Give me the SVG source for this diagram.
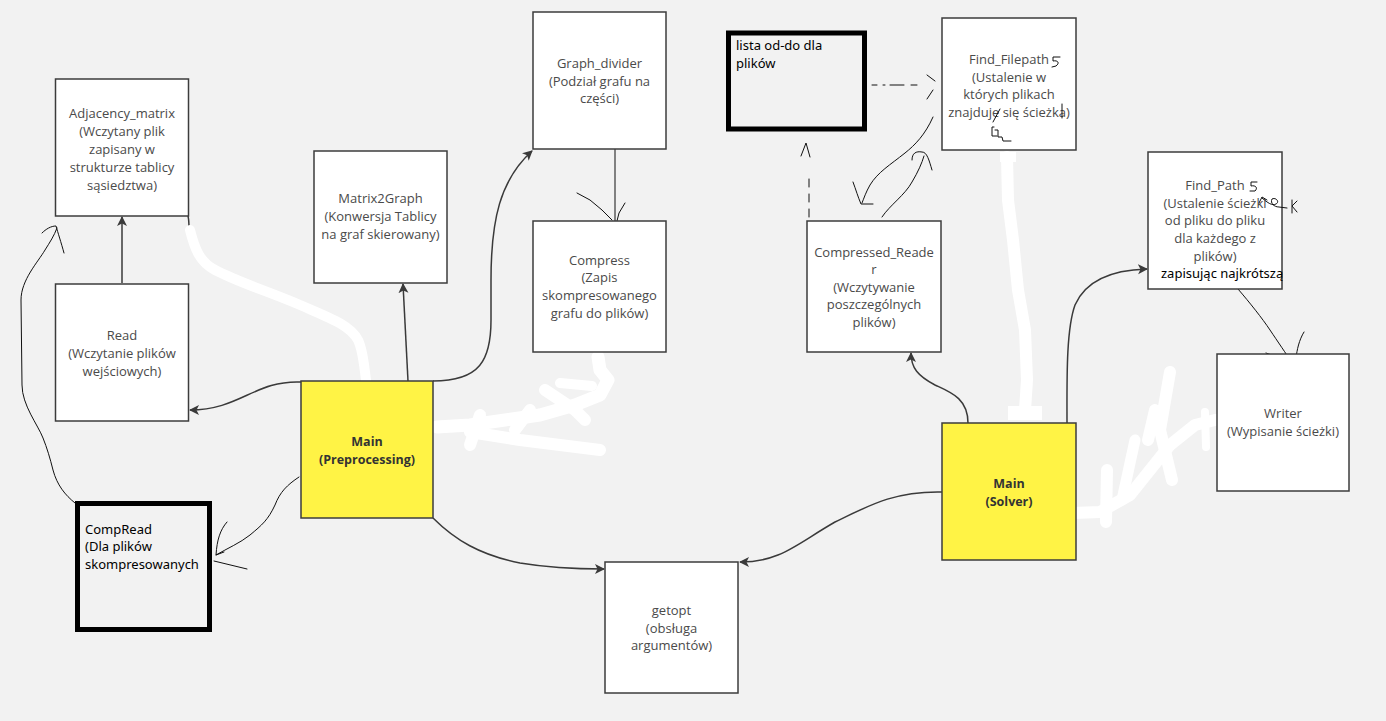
<svg xmlns="http://www.w3.org/2000/svg" width="1386" height="721" viewBox="0 0 1386 721">
  <style>
    .box { fill: #ffffff; stroke: #3c3c3c; stroke-width: 1.5; }
    .main { fill: #fff345; stroke: #3c3c3c; stroke-width: 1.5; }
    .note { fill: #f2f2f2; stroke: #000000; stroke-width: 5; }
    .lbl { font-family: "Open Sans", "Noto Sans", sans-serif; font-size: 13px; fill: #4a4a4a; text-anchor: middle; }
    .bold { font-family: "Open Sans", "Noto Sans", sans-serif; font-size: 12.5px; font-weight: bold; fill: #333333; text-anchor: middle; }
    .blk { font-family: "Noto Sans", "Open Sans", sans-serif; font-size: 13px; fill: #000000; }
    .conn { fill: none; stroke: #3a3a3a; stroke-width: 1.5; }
    .pen { fill: none; stroke: #111111; stroke-width: 1; stroke-linecap: round; stroke-linejoin: round; }
    .erase { fill: none; stroke: #ffffff; stroke-linecap: round; stroke-linejoin: round; }
  </style>
  <defs>
    <marker id="arr" viewBox="0 0 10 10" refX="9" refY="5" markerWidth="10" markerHeight="11" markerUnits="userSpaceOnUse" orient="auto">
      <path d="M0,0 L10,5 L0,10 L2.5,5 z" fill="#3a3a3a"/>
    </marker>
  </defs>

  <rect x="0" y="0" width="1386" height="721" fill="#f2f2f2"/>

  <!-- connectors -->
  <g id="connectors">
    <path class="conn" marker-end="url(#arr)" d="M122,283 L122,217"/>
    <path class="conn" marker-end="url(#arr)" d="M301,382 C255,380 240,410 190,410"/>
    <path class="conn" marker-end="url(#arr)" d="M408,381 L403,284"/>
    <path class="conn" marker-end="url(#arr)" d="M433,381 C480,381 491,360 491,320 L491,280 C491,220 500,180 532,151"/>
    <path class="conn" marker-end="url(#arr)" d="M433,518 C455,540 480,555 520,563 C550,568 575,569 604,569"/>
    <path class="conn" marker-end="url(#arr)" d="M942,492 C895,491 870,505 835,522 C795,545 780,562 740,562"/>
    <path class="conn" marker-end="url(#arr)" d="M968,423 C968,398 950,392 935,385 C918,376 911,368 911,353"/>
    <path class="conn" marker-end="url(#arr)" d="M1067,423 C1067,380 1066,330 1075,305 C1085,282 1110,270 1147,269"/>
    <!-- stub of the removed link below Adjacency_matrix -->
    <path class="conn" d="M188,216 C189,220 189,225 189,229"/>

    <!-- freehand pen strokes -->
    <path class="pen" d="M615,149 L615,221"/>
    <path class="pen" d="M577,193 L590,200 L602,210 L612,220 M625,203 L619,213 L617,221"/>
    <path class="pen" d="M299,477 C287,485 280,492 275,505 C268,520 262,525 250,535 C240,543 228,548 216,555"/>
    <path class="pen" d="M227,522 C220,530 217,540 216,555 L224,552 M214,561 L247,569"/>
    <path class="pen" d="M75,503 C65,495 57,485 53,470 C50,458 47,448 43,438 C38,425 22,405 22,385 L21,300 C21,280 38,262 45,250 C50,242 54,236 57,228"/>
    <path class="pen" d="M42,233 C46,229 51,226 56,226 C58,233 61,242 64,253"/>
    <path class="pen" d="M872,85 L877,85 M883,85 L885,85 M890,85 L904,85 M911,85 L917,85"/>
    <path class="pen" d="M927,75 L935,81 M927,99 L933,90"/>
    <path class="pen" d="M809,217 L809,175" stroke-dasharray="8,7"/>
    <path class="pen" d="M801,156 L806,143 L810,157"/>
    <path class="pen" d="M933,117 C925,135 915,145 905,153 C890,165 878,172 870,185 C866,192 864,198 862,203"/>
    <path class="pen" d="M853,182 C856,190 858,197 861,204 L873,204"/>
    <path class="pen" d="M882,217 C890,205 905,195 912,182 C918,172 922,163 924,156"/>
    <path class="pen" d="M912,160 C912,153 916,151 922,152 C927,152 929,160 932,170"/>
    <path class="pen" d="M1238,289 C1250,303 1262,318 1270,330 C1278,342 1285,352 1294,366"/>
    <path class="pen" d="M1266,353 L1280,358 L1293,366 M1304,332 C1299,340 1297,350 1296,358 L1294,366"/>
  </g>

  <!-- erased strokes in white -->
  <g id="eraser">
    <path class="erase" stroke-width="10" d="M190,230 C195,250 200,262 215,270 C240,283 270,292 300,305 C330,318 350,325 358,340 C363,350 364,365 366,380"/>
    <path class="erase" stroke-width="13" d="M437,427 L470,425 L505,420 L540,415 L575,405 L600,395 L608,380 L600,370 L598,357"/>
    <path class="erase" stroke-width="12" d="M470,445 L480,415"/>
    <path class="erase" stroke-width="12" d="M470,432 L520,440 L560,445 L600,450"/>
    <path class="erase" stroke-width="12" d="M515,430 L530,410"/>
    <path class="erase" stroke-width="12" d="M545,390 L575,410 L585,420"/>
    <path class="erase" stroke-width="10" d="M560,383 L592,386"/>
    <path class="erase" stroke-width="12" d="M1007,157 L1008,200 L1013,240 L1018,290 L1025,330 L1027,380 L1025,410"/>
    <rect x="1000" y="152" width="16" height="10" fill="#ffffff"/>
    <rect x="1008" y="406" width="34" height="14" fill="#ffffff"/>
    <path class="erase" stroke-width="12" d="M1073,513 L1100,512 L1130,495 L1150,470 L1170,445 L1195,425 L1215,420"/>
    <path class="erase" stroke-width="12" d="M1107,470 L1106,522"/>
    <path class="erase" stroke-width="11" d="M1135,440 L1122,500"/>
    <path class="erase" stroke-width="12" d="M1155,410 L1148,440"/>
    <path class="erase" stroke-width="12" d="M1170,372 L1160,430 L1172,480"/>
    <path class="erase" stroke-width="8" d="M1205,412 L1206,447"/>
  </g>

  <g id="adjacency-matrix">
    <rect class="box" x="55.5" y="79" width="133" height="137"/>
    <text class="lbl"><tspan x="122" y="118">Adjacency_matrix</tspan><tspan x="122" y="136">(Wczytany plik</tspan><tspan x="122" y="154">zapisany w</tspan><tspan x="122" y="172">strukturze tablicy</tspan><tspan x="122" y="190">sąsiedztwa)</tspan></text>
  </g>

  <g id="read">
    <rect class="box" x="55.5" y="284" width="133" height="137"/>
    <text class="lbl"><tspan x="122" y="340">Read</tspan><tspan x="122" y="358">(Wczytanie plików</tspan><tspan x="122" y="376">wejściowych)</tspan></text>
  </g>

  <g id="main-preprocessing">
    <rect class="main" x="301" y="381" width="132" height="137"/>
    <text class="bold"><tspan x="367" y="446">Main</tspan><tspan x="367" y="464">(Preprocessing)</tspan></text>
  </g>

  <g id="compread">
    <rect class="note" x="77.5" y="503.5" width="132" height="126"/>
    <text class="blk"><tspan x="85" y="533.5">CompRead</tspan><tspan x="85" y="551">(Dla plików</tspan><tspan x="85" y="568.5">skompresowanych</tspan></text>
  </g>

  <g id="matrix2graph">
    <rect class="box" x="314" y="151" width="133" height="132"/>
    <text class="lbl"><tspan x="380.5" y="203">Matrix2Graph</tspan><tspan x="380.5" y="221">(Konwersja Tablicy</tspan><tspan x="380.5" y="239">na graf skierowany)</tspan></text>
  </g>

  <g id="graph-divider">
    <rect class="box" x="533" y="12" width="133" height="137"/>
    <text class="lbl"><tspan x="599.5" y="67.5">Graph_divider</tspan><tspan x="599.5" y="85.5">(Podział grafu na</tspan><tspan x="599.5" y="103">części)</tspan></text>
  </g>

  <g id="compress">
    <rect class="box" x="533" y="221" width="133" height="131"/>
    <text class="lbl"><tspan x="599.5" y="264.5">Compress</tspan><tspan x="599.5" y="282">(Zapis</tspan><tspan x="599.5" y="300">skompresowanego</tspan><tspan x="599.5" y="317.5">grafu do plików)</tspan></text>
  </g>

  <g id="getopt">
    <rect class="box" x="605" y="562" width="133" height="131"/>
    <text class="lbl"><tspan x="671.5" y="615">getopt</tspan><tspan x="671.5" y="632.5">(obsługa</tspan><tspan x="671.5" y="650">argumentów)</tspan></text>
  </g>

  <g id="lista-od-do">
    <rect class="note" x="728.5" y="33" width="136" height="96"/>
    <text class="blk"><tspan x="736" y="50">lista od-do dla</tspan><tspan x="736" y="67.5">plików</tspan></text>
  </g>

  <g id="find-filepath">
    <rect class="box" x="942" y="18" width="134" height="132"/>
    <text class="lbl"><tspan x="1009" y="64">Find_Filepath</tspan><tspan x="1009" y="81.5">(Ustalenie w</tspan><tspan x="1009" y="99">których plikach</tspan><tspan x="1009" y="116.5">znajduje się ścieżka)</tspan></text>
    <path class="pen" d="M1060,57 L1053,57 L1053,61 C1058,60 1060,63 1056,66 L1052,67"/>
    <path class="pen" d="M993,122 L1000,109"/>
    <path class="pen" stroke-width="1.6" d="M1062,104 L1062,118"/>
    <path class="pen" d="M994,127 L992,127 L992,136 L997,136 M995,130 L998,130 L998,137 L1002,137 L1003,141 L1011,141"/>
  </g>

  <g id="compressed-reader">
    <rect class="box" x="807" y="221" width="134" height="131"/>
    <text class="lbl"><tspan x="874" y="256.5">Compressed_Reade</tspan><tspan x="874" y="274">r</tspan><tspan x="874" y="291.5">(Wczytywanie</tspan><tspan x="874" y="309">poszczególnych</tspan><tspan x="874" y="327">plików)</tspan></text>
  </g>

  <g id="main-solver">
    <rect class="main" x="942" y="423" width="134" height="137"/>
    <text class="bold"><tspan x="1009" y="488">Main</tspan><tspan x="1009" y="505.5">(Solver)</tspan></text>
  </g>

  <g id="find-path">
    <rect class="box" x="1148" y="152" width="134" height="137"/>
    <text class="lbl"><tspan x="1215" y="190">Find_Path</tspan><tspan x="1215" y="207.5">(Ustalenie ścieżki</tspan><tspan x="1215" y="225">od pliku do pliku</tspan><tspan x="1215" y="243">dla każdego z</tspan><tspan x="1215" y="260.5">plików)</tspan></text>
    <text class="blk" x="1161" y="277.5">zapisując najkrótszą</text>
    <path class="pen" d="M1257,182 L1251,182 L1251,186 C1256,185 1258,188 1255,191 L1250,191"/>
    <path class="pen" d="M1259,203 L1262,197 L1267,200 M1262,198 C1268,203 1272,206 1276,204 C1280,202 1276,197 1272,199 C1270,203 1274,207 1279,207 L1287,208"/>
    <path class="pen" d="M1292,200 L1292,213 M1297,201 L1292,206 L1297,212"/>
  </g>

  <g id="writer">
    <rect class="box" x="1217" y="354" width="132" height="137"/>
    <text class="lbl"><tspan x="1283" y="418">Writer</tspan><tspan x="1283" y="436">(Wypisanie ścieżki)</tspan></text>
  </g>
</svg>
